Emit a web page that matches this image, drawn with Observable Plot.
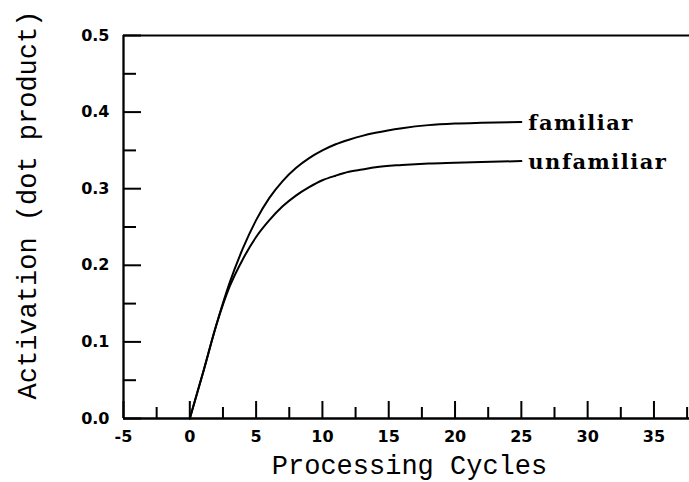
<!DOCTYPE html>
<html>
<head>
<meta charset="utf-8">
<script src="https://cdn.jsdelivr.net/npm/d3@7"></script>
<script src="https://cdn.jsdelivr.net/npm/@observablehq/plot@0.6"></script>
<style>
  html, body { margin: 0; padding: 0; background: #fff; }
  g[font-family="DejaVu Serif"] text { letter-spacing: 1.5px; }
</style>
</head>
<body>
<div id="chart"></div>
<script>
// Data
const cycles = [0, 1, 2, 3, 4, 5, 6, 7, 8, 9, 10, 11, 12, 13, 14, 16, 18, 20, 22, 25];
const familiar = [0, 0.06, 0.122, 0.177, 0.222, 0.259, 0.288, 0.31, 0.327, 0.34, 0.35, 0.358, 0.364, 0.369, 0.373, 0.379, 0.383, 0.385, 0.386, 0.387];
const unfamiliar = [0, 0.06, 0.122, 0.172, 0.208, 0.237, 0.259, 0.277, 0.291, 0.302, 0.311, 0.317, 0.322, 0.325, 0.328, 0.331, 0.333, 0.334, 0.335, 0.336];
const seriesNames = ["familiar", "unfamiliar"];

const xMajorTicks = [-5, 0, 5, 10, 15, 20, 25, 30, 35];
const xMinorTicks = [-2.5, 2.5, 7.5, 12.5, 17.5, 22.5, 27.5, 32.5, 37.5];
const yMajorTicks = [0, 0.1, 0.2, 0.3, 0.4, 0.5];
const yMinorTicks = [0.05, 0.15, 0.25, 0.35, 0.45];
const xTitle = "Processing Cycles";
const yTitle = "Activation (dot product)";

const rows = [];
[familiar, unfamiliar].forEach((vals, s) => {
  cycles.forEach((c, i) => rows.push({series: seriesNames[s], x: c, y: vals[i]}));
});
const ends = seriesNames.map((name, s) => ({
  series: name,
  x: cycles[cycles.length - 1],
  y: [familiar, unfamiliar][s][cycles.length - 1]
}));

const tickFont = {fontFamily: "DejaVu Sans", fontWeight: "bold", fontSize: 16};

const chart = Plot.plot({
  width: 689,
  height: 482,
  marginLeft: 123,
  marginRight: 0,
  marginTop: 35,
  marginBottom: 64,
  style: {background: "#fff", color: "#000", overflow: "visible"},
  x: {domain: [-5, 37.68]},
  y: {domain: [0, 0.5]},
  marks: [
    // frame lines
    Plot.ruleX([-5], {stroke: "#000", strokeWidth: 2.3}),
    Plot.ruleY([0], {stroke: "#000", strokeWidth: 2.3}),
    Plot.ruleY([0.5], {stroke: "#000", strokeWidth: 2}),
    // inward ticks
    Plot.tickX(xMajorTicks, {stroke: "#000", strokeWidth: 2, insetTop: 366}),
    Plot.tickX(xMinorTicks, {stroke: "#000", strokeWidth: 2, insetTop: 372}),
    Plot.tickY(yMajorTicks, {stroke: "#000", strokeWidth: 2, insetRight: 548}),
    Plot.tickY(yMinorTicks, {stroke: "#000", strokeWidth: 2, insetRight: 553}),
    // tick labels
    Plot.axisX(xMajorTicks, {tickSize: 0, tickPadding: 12, ...tickFont, tickFormat: d => String(d), label: null}),
    Plot.axisY(yMajorTicks, {tickSize: 0, tickPadding: 14, ...tickFont, tickFormat: d => d.toFixed(1), label: null}),
    // titles
    Plot.text([xTitle], {frameAnchor: "bottom", textAnchor: "middle", dx: 3, dy: 47, fontFamily: "Liberation Mono", fontSize: 27, lineAnchor: "middle", fill: "#000"}),
    Plot.text([yTitle], {frameAnchor: "left", textAnchor: "middle", rotate: -90, dx: -96, dy: -22, fontFamily: "Liberation Mono", fontSize: 27, lineAnchor: "middle", fill: "#000"}),
    // curves
    Plot.line(rows, {x: "x", y: "y", z: "series", stroke: "#000", strokeWidth: 2, curve: "monotone-x"}),
    Plot.text(ends, {x: "x", y: "y", text: "series", textAnchor: "start", dx: 7, dy: 1, fontFamily: "DejaVu Serif", fontWeight: "bold", fontSize: 21, fill: "#000"})
  ]
});
document.getElementById("chart").appendChild(chart);
</script>
</body>
</html>
